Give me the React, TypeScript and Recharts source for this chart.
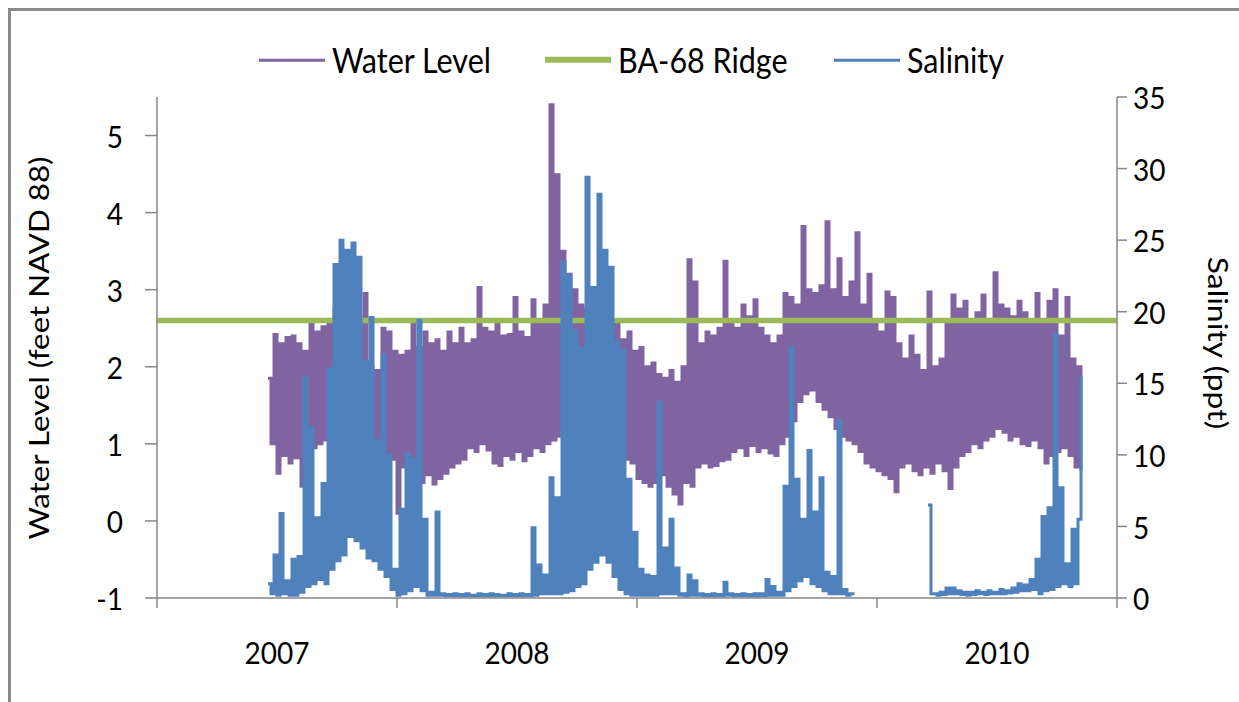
import React from 'react';
import { ComposedChart, Line, XAxis, YAxis } from 'recharts';

// ---------- axes / labels ----------
const yearTicks = [2007, 2008, 2009, 2010, 2011];
const yearLabels = ['2007', '2008', '2009', '2010'];
const levelTicks = [-1, 0, 1, 2, 3, 4, 5];
const salinityTicks = [0, 5, 10, 15, 20, 25, 30, 35];
const RIDGE_LEVEL = 2.6; // BA-68 ridge elevation, ft NAVD 88

// readings: alternating high / low values every SAMPLE_STEP years from SERIES_START
const SERIES_START = 2007.4625;
const SAMPLE_STEP = 0.0125;

// ---------- water level (ft NAVD 88): envelope highs / lows ----------
const wlHigh2007 = [1.85, 2.42, 2.30, 2.38, 2.40, 2.30, 2.20, 2.55, 2.45, 2.52, 2.58, 2.75, 2.60, 2.70, 2.65, 2.60, 2.95, 2.00, 1.95, 2.50, 2.45, 2.20];
const wlLow2007 = [1.00, 0.62, 0.85, 0.75, 0.82, 0.45, 0.90, 0.95, 1.00, 1.05, 1.10, 1.15, 1.20, 1.10, 1.15, 1.20, 1.05, 1.00, 0.90, 0.85, 0.80, 0.10];

const wlHigh2008 = [
  2.15, 2.20, 2.60, 2.25, 2.45, 2.30, 2.35, 2.20, 2.45, 2.30,
  2.50, 2.30, 2.35, 3.03, 2.50, 2.45, 2.55, 2.40, 2.42, 2.90,
  2.45, 2.38, 2.87, 2.60, 2.80, 5.40, 4.49, 3.50, 3.20, 3.00,
  2.80, 2.75, 2.70, 2.65, 2.60, 2.55, 2.60, 2.35, 2.45, 2.20,
];
const wlLow2008 = [
  0.70, 0.55, 0.65, 0.50, 0.60, 0.48, 0.55, 0.62, 0.70, 0.75,
  0.80, 0.95, 0.90, 1.00, 0.92, 0.75, 0.72, 0.85, 0.80, 0.90,
  0.78, 0.85, 0.95, 0.90, 1.00, 1.05, 1.10, 1.30, 1.30, 1.25,
  1.30, 1.25, 1.20, 1.15, 1.10, 1.00, 0.85, 0.80, 0.75, 0.55,
];

const wlHigh2009 = [
  2.25, 2.00, 2.05, 1.90, 1.85, 1.95, 1.80, 2.00, 3.39, 3.10,
  2.30, 2.45, 2.40, 2.50, 3.37, 2.55, 2.50, 2.80, 2.65, 2.87,
  2.50, 2.40, 2.30, 2.40, 2.95, 2.90, 2.80, 3.82, 3.00, 2.95,
  3.05, 3.88, 3.00, 3.40, 2.90, 3.10, 3.74, 2.80, 3.20, 2.60,
];
const wlLow2009 = [
  0.50, 0.45, 0.50, 0.60, 0.45, 0.35, 0.22, 0.50, 0.45, 0.70,
  0.75, 0.70, 0.72, 0.78, 0.80, 0.90, 0.95, 0.85, 0.98, 0.90,
  0.95, 0.88, 0.85, 1.00, 1.10, 1.30, 1.55, 1.65, 1.70, 1.55,
  1.45, 1.35, 1.20, 1.10, 1.05, 1.00, 0.90, 0.75, 0.70, 0.65,
];

const wlHigh2010 = [
  2.45, 2.97, 2.90, 2.30, 2.10, 2.40, 2.15, 1.95, 2.97, 2.00,
  2.10, 2.55, 2.93, 2.75, 2.85, 2.60, 2.70, 2.93, 2.60, 3.22,
  2.80, 2.75, 2.65, 2.85, 2.70, 2.60, 2.95, 2.60, 2.85, 3.00,
  2.40, 2.90, 2.10, 2.00,
];
const wlLow2010 = [
  0.60, 0.55, 0.38, 0.70, 0.75, 0.65, 0.60, 0.70, 0.62, 0.75,
  0.65, 0.42, 0.70, 0.85, 0.90, 1.00, 0.95, 1.05, 1.10, 1.20,
  1.15, 1.05, 1.10, 1.00, 0.98, 1.05, 0.95, 0.75, 0.85, 0.90,
  0.95, 0.85, 0.70, 0.65,
];

// ---------- salinity (ppt): envelope highs / lows ----------
const salHigh2007 = [1.0, 3.0, 5.9, 1.2, 2.7, 2.9, 15.4, 11.9, 5.6, 8.0, 16.0, 23.3, 25.0, 24.3, 24.8, 23.8, 16.5, 19.6, 11.0, 17.0, 10.0, 2.0];
const salLow2007 = [0.3, 0.2, 0.3, 0.2, 0.2, 0.4, 0.8, 1.0, 1.3, 1.0, 2.0, 2.6, 3.0, 4.3, 4.0, 3.5, 2.8, 2.6, 2.0, 1.5, 0.6, 0.2];

const salHigh2008 = [
  6.2, 10.1, 9.7, 19.4, 5.5, 0.4, 6.0, 0.3, 0.25, 0.3,
  0.25, 0.3, 0.2, 0.3, 0.25, 0.3, 0.25, 0.2, 0.3, 0.25,
  0.3, 0.25, 4.9, 2.3, 1.6, 8.4, 7.0, 23.5, 22.5, 18.7,
  17.5, 29.4, 21.7, 28.2, 24.3, 23.1, 17.9, 17.3, 8.3, 4.6,
];
const salLow2008 = [
  0.3, 0.5, 0.8, 0.5, 0.2, 0.2, 0.2, 0.15, 0.15, 0.15,
  0.15, 0.15, 0.15, 0.15, 0.15, 0.15, 0.15, 0.15, 0.15, 0.15,
  0.15, 0.15, 0.2, 0.3, 0.3, 0.3, 0.3, 0.4, 0.5, 0.8,
  1.0, 2.0, 2.5, 3.0, 2.5, 1.5, 0.6, 0.3, 0.2, 0.2,
];

const salHigh2009 = [
  2.0, 1.6, 1.5, 13.7, 3.5, 5.5, 2.1, 0.3, 1.6, 1.2,
  0.3, 0.25, 0.3, 0.25, 1.1, 0.3, 0.25, 0.3, 0.25, 0.3,
  0.3, 1.3, 0.8, 0.4, 7.8, 17.5, 8.3, 5.5, 10.3, 6.0,
  8.4, 1.8, 1.5, 12.4, 0.6, 0.3, null, null, null, null,
];
const salLow2009 = [
  0.2, 0.2, 0.2, 0.3, 0.3, 0.3, 0.2, 0.15, 0.2, 0.2,
  0.15, 0.15, 0.15, 0.15, 0.2, 0.15, 0.15, 0.15, 0.15, 0.15,
  0.15, 0.2, 0.2, 0.2, 0.5, 0.8, 1.2, 1.5, 1.0, 0.8,
  0.5, 0.3, 0.3, 0.3, 0.2, 0.2, null, null, null, null,
];

const salHigh2010 = [
  null, null, null, null, null, null, null, null, 6.5, 0.3,
  0.4, 0.7, 0.7, 0.5, 0.4, 0.4, 0.5, 0.4, 0.5, 0.4,
  0.6, 0.5, 0.7, 1.0, 0.9, 1.3, 2.7, 5.7, 6.3, 18.4,
  7.7, 2.4, 4.8, 5.5,
];
const salLow2010 = [
  null, null, null, null, null, null, null, null, 0.3, 0.2,
  0.25, 0.3, 0.3, 0.25, 0.2, 0.25, 0.3, 0.25, 0.3, 0.3,
  0.3, 0.35, 0.4, 0.5, 0.5, 0.6, 0.3, 0.5, 0.6, 0.8,
  1.0, 0.8, 1.0, 15.5,
];

const wlHigh = [...wlHigh2007, ...wlHigh2008, ...wlHigh2009, ...wlHigh2010];
const wlLow = [...wlLow2007, ...wlLow2008, ...wlLow2009, ...wlLow2010];
const salHigh = [...salHigh2007, ...salHigh2008, ...salHigh2009, ...salHigh2010];
const salLow = [...salLow2007, ...salLow2008, ...salLow2009, ...salLow2010];

const rows = wlHigh.flatMap((hi, k) => [
  { t: SERIES_START + 2 * k * SAMPLE_STEP, level: hi, salinity: salHigh[k] },
  { t: SERIES_START + (2 * k + 1) * SAMPLE_STEP, level: wlLow[k], salinity: salLow[k] },
]);
const ridgeRows = [
  { t: yearTicks[0], ridge: RIDGE_LEVEL },
  { t: yearTicks[yearTicks.length - 1], ridge: RIDGE_LEVEL },
];

// ---------- styling ----------
const FONT = 'Lato, "Open Sans", sans-serif';
const TEXT = '#000000';
const AXIS = '#868686';
const PURPLE = '#8064A2';
const GREEN = '#9BBB59';
const BLUE = '#4F81BD';
const TICK_FS = 28;
const LEGEND_FS = 30.5;
const TITLE_FS = 27;
const STRETCH = 1.12;

const YearTick = (props: any) => {
  const { x, y, payload } = props;
  const i = yearTicks.indexOf(payload.value);
  if (i < 0 || i >= yearLabels.length) return <g />;
  return (
    <g transform={`translate(${x + 120},${y + 42}) scale(1,${STRETCH})`}>
      <text x={0} y={0} textAnchor="middle" dominantBaseline="central" fill={TEXT} fontSize={TICK_FS} fontFamily={FONT}>
        {yearLabels[i]}
      </text>
    </g>
  );
};

const ValueTick = (props: any) => {
  const { x, y, payload, textAnchor } = props;
  return (
    <g transform={`translate(${x},${y}) scale(1,${STRETCH})`}>
      <text x={0} y={0} textAnchor={textAnchor} dominantBaseline="central" fill={TEXT} fontSize={TICK_FS} fontFamily={FONT}>
        {payload.value}
      </text>
    </g>
  );
};

const legendItems = [
  { name: 'Water Level', color: PURPLE, thick: 3, left: 259 },
  { name: 'BA-68 Ridge', color: GREEN, thick: 6, left: 545 },
  { name: 'Salinity', color: BLUE, thick: 3, left: 834 },
];

export default function App() {
  return (
    <div style={{ position: 'absolute', left: 0, top: 0, width: 1239, height: 702, overflow: 'hidden', background: '#fff', fontFamily: FONT }}>
      <div style={{ position: 'absolute', left: 8, top: 8, width: 1260, height: 720, border: '3px solid #8a8a8a', boxSizing: 'border-box' }} />
      {legendItems.map((it) => (
        <div key={it.name} style={{ position: 'absolute', left: it.left, top: 60, transform: 'translateY(-50%)', display: 'flex', alignItems: 'center', whiteSpace: 'nowrap' }}>
          <div style={{ width: 66, height: it.thick, background: it.color, marginRight: 7 }} />
          <span style={{ display: 'inline-block', fontSize: LEGEND_FS, color: TEXT, lineHeight: 1, transform: `scaleY(${STRETCH})` }}>{it.name}</span>
        </div>
      ))}
      <div style={{ position: 'absolute', left: 38, top: 348, transform: 'translate(-50%, -50%) rotate(-90deg) scaleX(1.16)', fontSize: TITLE_FS, color: TEXT, whiteSpace: 'nowrap', lineHeight: 1 }}>
        Water Level (feet NAVD 88)
      </div>
      <div style={{ position: 'absolute', left: 1218, top: 343, transform: 'translate(-50%, -50%) rotate(90deg) scaleX(1.18)', fontSize: TITLE_FS, color: TEXT, whiteSpace: 'nowrap', lineHeight: 1 }}>
        Salinity (ppt)
      </div>
      <div style={{ position: 'absolute', left: 0, top: 0 }}>
        <ComposedChart width={1239} height={702} data={rows} margin={{ top: 97, right: 0, bottom: 0, left: 0 }}>
          <XAxis dataKey="t" type="number" domain={[2007, 2011]} ticks={yearTicks} interval={0}
            height={104} tickSize={10} axisLine={{ stroke: AXIS, strokeWidth: 1.5 }} tickLine={{ stroke: AXIS, strokeWidth: 1.5 }}
            tick={<YearTick />} allowDataOverflow />
          <YAxis yAxisId="left" orientation="left" domain={[-1, 5.5]} ticks={levelTicks} interval={0} width={157}
            tickSize={12} tickMargin={22} axisLine={{ stroke: AXIS, strokeWidth: 1.5 }} tickLine={{ stroke: AXIS, strokeWidth: 1.5 }}
            tick={<ValueTick />} allowDataOverflow />
          <YAxis yAxisId="right" orientation="right" domain={[0, 35]} ticks={salinityTicks} interval={0} width={122}
            tickSize={10} tickMargin={6} axisLine={{ stroke: AXIS, strokeWidth: 1.5 }} tickLine={{ stroke: AXIS, strokeWidth: 1.5 }}
            tick={<ValueTick />} allowDataOverflow />
          <Line yAxisId="left" dataKey="level" name="Water Level" type="stepAfter" stroke={PURPLE} strokeWidth={3}
            dot={false} activeDot={false} isAnimationActive={false} />
          <Line yAxisId="left" data={ridgeRows} dataKey="ridge" name="BA-68 Ridge" type="linear" stroke={GREEN} strokeWidth={5.5}
            dot={false} activeDot={false} isAnimationActive={false} />
          <Line yAxisId="right" dataKey="salinity" name="Salinity" type="stepAfter" stroke={BLUE} strokeWidth={3}
            dot={false} activeDot={false} isAnimationActive={false} />
        </ComposedChart>
      </div>
    </div>
  );
}
